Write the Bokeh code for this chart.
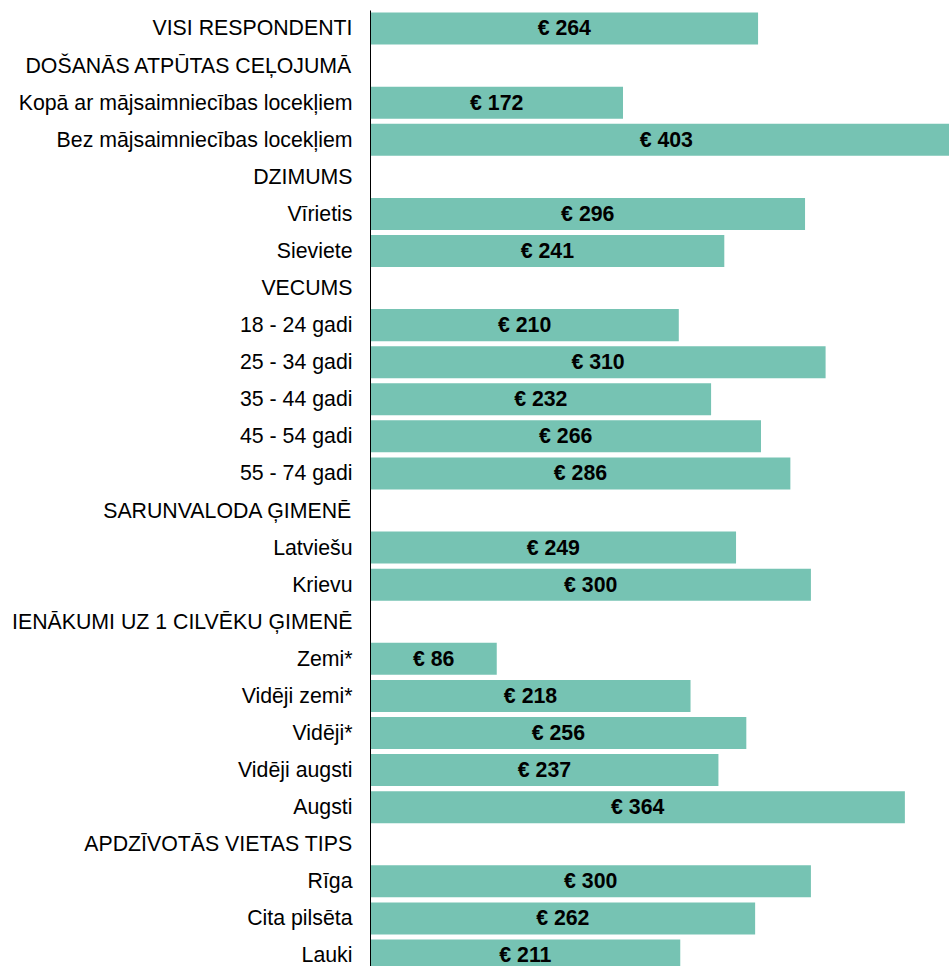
from bokeh.plotting import figure
from bokeh.models import ColumnDataSource, FixedTicker, Range1d
from bokeh.core.properties import value
from bokeh.embed import file_html
from bokeh.resources import INLINE

labels = [
    "VISI RESPONDENTI",
    "DOŠANĀS ATPŪTAS CEĻOJUMĀ",
    "Kopā ar mājsaimniecības locekļiem",
    "Bez mājsaimniecības locekļiem",
    "DZIMUMS",
    "Vīrietis",
    "Sieviete",
    "VECUMS",
    "18 - 24 gadi",
    "25 - 34 gadi",
    "35 - 44 gadi",
    "45 - 54 gadi",
    "55 - 74 gadi",
    "SARUNVALODA ĢIMENĒ",
    "Latviešu",
    "Krievu",
    "IENĀKUMI UZ 1 CILVĒKU ĢIMENĒ",
    "Zemi*",
    "Vidēji zemi*",
    "Vidēji*",
    "Vidēji augsti",
    "Augsti",
    "APDZĪVOTĀS VIETAS TIPS",
    "Rīga",
    "Cita pilsēta",
    "Lauki",
]
values = [264, None, 172, 403, None, 296, 241, None, 210, 310, 232, 266, 286,
          None, 249, 300, None, 86, 218, 256, 237, 364, None, 300, 262, 211]

rows = [i for i, v in enumerate(values) if v is not None]
vals = [values[i] for i in rows]
src = ColumnDataSource(dict(
    y=rows,
    v=vals,
    mid=[v / 2 for v in vals],
    txt=["€ %d" % v for v in vals],
))

BAR = "#76c3b3"
FONT = "Liberation Sans"

p = figure(width=949, height=966, output_backend="svg", toolbar_location=None,
           x_range=Range1d(0, 394.4), y_range=Range1d(25.297, -0.485),
           min_border_left=370, min_border_right=0, min_border_top=10,
           min_border_bottom=0)
p.outline_line_color = None
p.xgrid.visible = False
p.ygrid.visible = False
p.xaxis.visible = False

p.hbar(y="y", right="v", left=0, height=0.863, source=src,
       fill_color=BAR, line_color=None)
p.text(x="mid", y="y", text="txt", source=src,
       text_align="center", text_baseline="middle",
       text_font=value(FONT), text_font_style="bold",
       text_font_size="21.3px", text_color="#000000")

ax = p.yaxis[0]
ax.ticker = FixedTicker(ticks=list(range(len(labels))))
ax.major_label_overrides = {i: lab for i, lab in enumerate(labels)}
ax.major_tick_line_color = None
ax.minor_tick_line_color = None
ax.major_tick_out = 0
ax.major_tick_in = 0
ax.minor_tick_out = 0
ax.major_label_standoff = 18
ax.major_label_text_font = FONT
ax.major_label_text_font_size = "21.3px"
ax.major_label_text_color = "#000000"
ax.axis_line_color = "#000000"
ax.axis_line_width = 1

open("out.html", "w").write(file_html(p, INLINE))
